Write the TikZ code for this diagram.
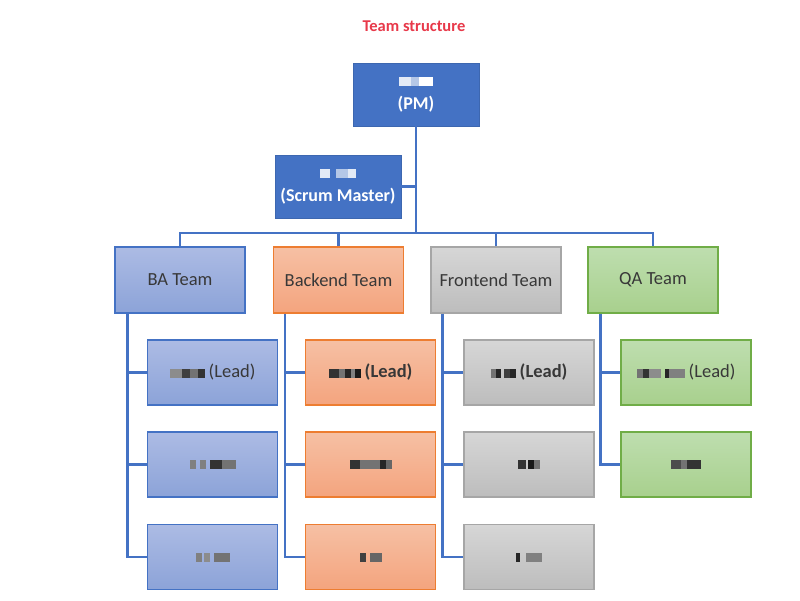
\documentclass[tikz,border=0pt]{standalone}
\usepackage{fontspec}
\setmainfont{Carlito}
\definecolor{accblue}{HTML}{4472C4}
\definecolor{titlered}{HTML}{E8394A}
\definecolor{txt}{HTML}{383838}
\definecolor{batop}{RGB}{172,187,228}
\definecolor{babot}{RGB}{140,163,216}
\newcommand\blk[2]{{\color{#1}\rule[0pt]{#2pt}{9pt}}}
\begin{document}
\begin{tikzpicture}[x=1pt,y=-1pt,
  conn/.style={draw=accblue,line width=2.8pt},
  topbox/.style={draw=accblue!90!black,fill=accblue,line width=0.8pt,minimum width=126pt,minimum height=63pt,inner sep=0pt,align=center,text=white,font=\fontsize{18}{22}\selectfont\bfseries},
  teambox/.style={line width=1.2pt,minimum width=130pt,minimum height=66pt,inner sep=0pt,align=center,text=txt,font=\fontsize{18.5}{20}\selectfont},
  membox/.style={teambox,minimum width=130pt,minimum height=65pt},
  bastyle/.style={draw=accblue,top color=batop,bottom color=babot},
  bestyle/.style={draw={rgb,255:red,237;green,125;blue,49},top color={rgb,255:red,246;green,192;blue,164},bottom color={rgb,255:red,244;green,164;blue,126}},
  festyle/.style={draw=black!35,top color=black!16,bottom color=black!26},
  qastyle/.style={draw={rgb,255:red,112;green,173;blue,71},top color={rgb,255:red,190;green,222;blue,175},bottom color={rgb,255:red,168;green,208;blue,141}}
]
\useasboundingbox[fill=white] (0,0) rectangle (800,600);

\node[text=titlered,font=\fontsize{16.5}{18}\selectfont\bfseries] (title) at (414,26) {Team structure};

\node[topbox] (pm) at (416,94.5) {\blk{white!85!accblue}{12}\blk{white!60!accblue}{8}\blk{white}{14}\\[2pt](PM)};
\node[topbox] (sm) at (338,186.5) {\blk{white!85!accblue}{10}\hspace{6pt}\blk{white!60!accblue}{12}\blk{white!85!accblue}{8}\\[2pt](Scrum Master)};

\node[teambox,bastyle] (ba) at (180,280) {BA Team};
\node[teambox,bestyle] (be) at (338.5,280) {Backend Team};
\node[teambox,festyle] (fe) at (496,280) {Frontend Team};
\node[teambox,qastyle] (qa) at (653,280) {QA Team};

\node[membox,bastyle] (ba1) at (212.5,372.5) {\blk{black!45}{12}\blk{black!75}{8}\blk{black!55}{8}\blk{black!80}{7}~(Lead)};
\node[membox,bastyle] (ba2) at (212.5,464.5) {\blk{black!50}{6}\hspace{4pt}\blk{black!50}{6}\hspace{4pt}\blk{black!80}{12}\blk{black!55}{14}};
\node[membox,bastyle] (ba3) at (212.5,557) {\blk{black!50}{6}\hspace{2pt}\blk{black!45}{6}\hspace{4pt}\blk{black!55}{16}};

\node[membox,bestyle] (be1) at (370.5,372.5) {\blk{black!80}{10}\blk{black!55}{6}\blk{black!85}{6}\blk{black!50}{4}\blk{black!90}{6}~\textbf{(Lead)}};
\node[membox,bestyle] (be2) at (370.5,464.5) {\blk{black!80}{10}\blk{black!55}{20}\blk{black!85}{6}\blk{black!60}{6}};
\node[membox,bestyle] (be3) at (370.5,557) {\blk{black!75}{6}\hspace{4pt}\blk{black!60}{12}};

\node[membox,festyle] (fe1) at (529,372.5) {\blk{black!55}{5}\blk{black!85}{5}\hspace{3pt}\blk{black!75}{6}\blk{black!85}{6}~\textbf{(Lead)}};
\node[membox,festyle] (fe2) at (529,464.5) {\blk{black!80}{8}\hspace{2pt}\blk{black!90}{6}\blk{black!55}{6}};
\node[membox,festyle] (fe3) at (529,557) {\blk{black!85}{4}\hspace{6pt}\blk{black!50}{16}};

\node[membox,qastyle] (qa1) at (686,372.5) {\blk{black!55}{6}\blk{black!80}{6}\blk{black!45}{12}\hspace{4pt}\blk{black!85}{4}\blk{black!50}{16}~(Lead)};
\node[membox,qastyle] (qa2) at (686,464.5) {\blk{black!70}{10}\blk{black!55}{6}\blk{black!80}{14}};

\coordinate (bar) at (416,233);
\draw[conn] (pm.south) -- (bar);
\draw[conn] (sm.east) -- (sm.east -| bar);
\draw[conn] (ba.north) -- (ba.north |- bar) -- (qa.north |- bar) -- (qa.north);
\draw[conn] (be.north) -- (be.north |- bar);
\draw[conn] (fe.north) -- (fe.north |- bar);

\coordinate (bas) at ([xshift=13pt]ba.south west);
\coordinate (bes) at ([xshift=12pt]be.south west);
\coordinate (fes) at ([xshift=12pt]fe.south west);
\coordinate (qas) at ([xshift=13pt]qa.south west);

\draw[conn] (bas) |- (ba3.west);
\draw[conn] (bas |- ba1.west) -- (ba1.west);
\draw[conn] (bas |- ba2.west) -- (ba2.west);
\draw[conn] (bes) |- (be3.west);
\draw[conn] (bes |- be1.west) -- (be1.west);
\draw[conn] (bes |- be2.west) -- (be2.west);
\draw[conn] (fes) |- (fe3.west);
\draw[conn] (fes |- fe1.west) -- (fe1.west);
\draw[conn] (fes |- fe2.west) -- (fe2.west);
\draw[conn] (qas) |- (qa2.west);
\draw[conn] (qas |- qa1.west) -- (qa1.west);
\end{tikzpicture}
\end{document}
